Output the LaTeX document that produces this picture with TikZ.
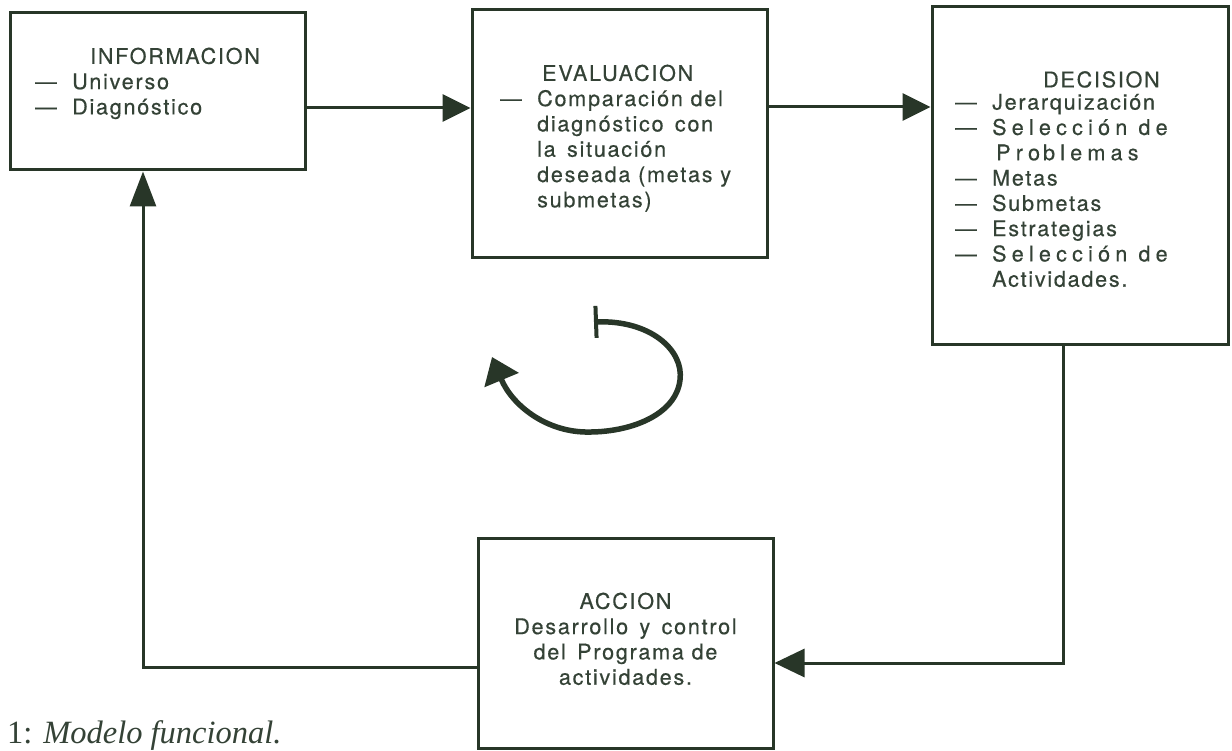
\documentclass[tikz,border=0pt]{standalone}
\usepackage{fontspec}
\setmainfont{TeX Gyre Heros}[LetterSpace=8,FakeBold=0.4]
\newfontfamily\widefont{TeX Gyre Heros}[LetterSpace=24,FakeBold=0.4]
\newfontfamily\capfont{Liberation Serif}
\usetikzlibrary{arrows.meta}
\definecolor{ink}{RGB}{40,54,40}
\definecolor{txt}{RGB}{52,66,54}
\newcommand{\dsh}{\makebox[37pt][l]{—}}
\newcommand{\ind}{\hspace*{37pt}}
\begin{document}
\begin{tikzpicture}[x=1pt,y=1pt,
  box/.style={draw=ink,line width=3pt,minimum width=#1,inner sep=0pt},
  txtblock/.style={inner sep=0pt,text=txt,font={\fontsize{21.6}{25.3}\selectfont}},
  conn/.style={draw=ink,line width=3pt},
  tipH/.style={-{Triangle[length=28pt,width=27pt]}}
]
\useasboundingbox[fill=white] (0,0) rectangle (1232,-751);
% boxes
\node[box=295pt,minimum height=157pt] (info) at (157.5,-91.5) {};
\node[box=295pt,minimum height=248pt] (eval) at (619.5,-134) {};
\node[box=296pt,minimum height=338pt] (dec) at (1080,-176) {};
\node[box=295pt,minimum height=210pt] (acc) at (625.5,-643) {};
% texts
\node[txtblock,align=left,anchor=north west] (infot) at (35,-47.5)
 {\hspace*{55pt}INFORMACION\\ \dsh Universo\\ \dsh Diagnóstico};
\node[txtblock,align=left,anchor=north west] (evalt) at (500,-64.5)
 {\hspace*{42pt}EVALUACION\\ \dsh Comparación del\\ \ind diagnóstico\, con\\ \ind la\, situación\\ \ind deseada (metas y\\ \ind submetas)};
\node[txtblock,align=left,anchor=north west] (dect) at (955,-71)
 {\hspace*{88pt}DECISION\\[-3pt] \dsh Jerarquización\\ \dsh {\widefont Selección de}\\ \ind\hspace*{4pt}{\widefont Pro\hspace{3pt}blemas}\\ \dsh Metas\\ \dsh Submetas\\ \dsh Estrategias\\ \dsh {\widefont Selección de}\\ \ind Actividades.};
\node[txtblock,align=center,anchor=north] (acct) at (625.5,-592.5)
 {ACCION\\ Desarrollo\, y\, control\\ del\, Programa de\\ actividades.};
% caption
\node[inner sep=0pt,anchor=base west,text=txt,font={\capfont\fontsize{32.5}{32.5}\selectfont}] (cap) at (7,-743) {1: \textit{Modelo funcional.}};
% connectors
\draw[conn,tipH] (info.east |- 0,-108) -- (eval.west |- 0,-108);
\draw[conn,tipH] (eval.east |- 0,-107) -- (dec.west |- 0,-107);
\coordinate (rc) at (1063,-663);
\coordinate (lc) at (143,-667);
\draw[conn,-{Triangle[length=30pt,width=28pt]}] (dec.south -| rc) -- (rc) -- (acc.east |- rc);
\draw[conn,-{Triangle[length=35pt,width=26pt]}] (acc.west |- lc) -- (lc) -- (info.south -| lc);
% cycle symbol
\coordinate (cs) at (594,-322);
\coordinate (ce) at (492,-357);
\draw[draw=ink,line width=5.5pt,{Bar[width=32pt,line width=4pt]}-{Triangle[length=25pt,width=36pt]}]
  (cs) .. controls (650,-320) and (684,-350) .. (680,-380)
       .. controls (676,-415) and (630,-433) .. (585,-432)
       .. controls (545,-431) and (512,-405) .. (ce);
\end{tikzpicture}
\end{document}
